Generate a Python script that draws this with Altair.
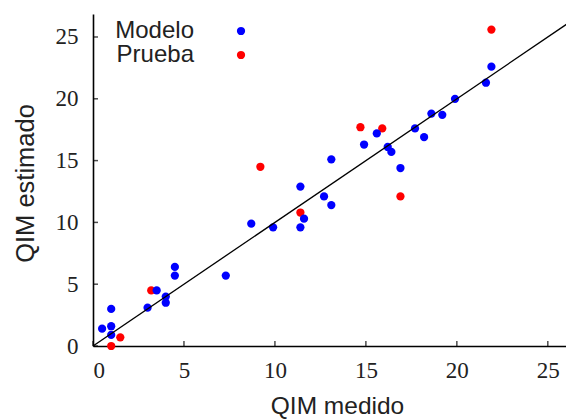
import altair as alt
import pandas as pd

# Modelo (blue)
modelo_x = [0.5, 1.0, 1.0, 1.0, 3.0, 3.5, 4.0, 4.0, 4.5, 4.5, 7.3, 8.7, 9.9, 11.4, 11.4, 11.6,
            12.7, 13.1, 13.1, 14.9, 15.6, 16.2, 16.4, 16.9, 17.7, 18.2, 18.6, 19.2, 19.9, 21.6, 21.9]
modelo_y = [1.4, 1.6, 0.9, 3.0, 3.1, 4.5, 4.0, 3.5, 5.7, 6.4, 5.7, 9.9, 9.6, 12.9, 9.6, 10.3,
            12.1, 11.4, 15.1, 16.3, 17.2, 16.1, 15.7, 14.4, 17.6, 16.9, 18.8, 18.7, 20.0, 21.3, 22.6]
# Prueba (red)
prueba_x = [1.0, 1.5, 3.2, 9.2, 11.4, 14.7, 15.9, 16.9, 21.9]
prueba_y = [0.0, 0.7, 4.5, 14.5, 10.8, 17.7, 17.6, 12.1, 25.6]

series = ["Modelo", "Prueba"]
colors = ["#0000ff", "#ff0000"]
tick_values = [0, 5, 10, 15, 20, 25]
x_domain = [0, 26.0]
y_domain = [0, 26.86]
diag = [0, 27]

df = pd.concat([
    pd.DataFrame({"x": prueba_x, "y": prueba_y, "serie": "Prueba", "o": 0}),
    pd.DataFrame({"x": modelo_x, "y": modelo_y, "serie": "Modelo", "o": 1}),
])
ddf = pd.DataFrame({"x": diag, "y": diag})
tdf = pd.DataFrame({"t": tick_values})

W, H = 473, 332
xs = alt.Scale(domain=x_domain, nice=False, zero=False)
ys = alt.Scale(domain=y_domain, nice=False, zero=False)

x_axis = alt.Axis(values=tick_values, ticks=False, tickSize=0, grid=False, domainColor="black",
                  domainWidth=1.6, labelFont="Liberation Serif", labelFontSize=23, labelColor="#222",
                  labelBaseline="alphabetic", labelPadding=31,
                  title="QIM medido", titleFont="Liberation Sans", titleFontSize=24.5,
                  titleFontWeight="normal", titleColor="#222", titleBaseline="alphabetic",
                  titleX=244, titleY=67, titleAnchor="middle")
y_axis = alt.Axis(values=tick_values, ticks=False, tickSize=0, grid=False, domainColor="black",
                  domainWidth=1.6, labelFont="Liberation Serif", labelFontSize=23, labelColor="#222",
                  labelPadding=15,
                  title="QIM estimado", titleFont="Liberation Sans", titleFontSize=25.5,
                  titleFontWeight="normal", titleColor="#222", titleBaseline="alphabetic",
                  titleX=-60, titleY=169, titleAnchor="middle")

points = alt.Chart(df).mark_circle(size=68, opacity=1).encode(
    x=alt.X("x:Q", scale=xs, axis=x_axis),
    y=alt.Y("y:Q", scale=ys, axis=y_axis),
    color=alt.Color("serie:N", scale=alt.Scale(domain=series, range=colors),
                    legend=alt.Legend(title=None, orient="none", legendX=136, legendY=5,
                                      labelAlign="right", labelOffset={"expr": "-59"},
                                      labelFont="Liberation Sans", labelFontSize=24,
                                      labelColor="#222", symbolType="circle", symbolSize=68,
                                      rowPadding=0, padding=0, labelLimit=300)),
    order=alt.Order("o:Q"),
)

line = alt.Chart(ddf).mark_line(color="black", strokeWidth=1.3, clip=True).encode(
    x=alt.X("x:Q", scale=xs), y=alt.Y("y:Q", scale=ys)
)

xticks = alt.Chart(tdf).mark_tick(color="black", thickness=1.5, size=5, orient="vertical").encode(
    x=alt.X("t:Q", scale=xs), y=alt.value(H - 2.5)
)
yticks = alt.Chart(tdf).mark_tick(color="black", thickness=1.5, size=5, orient="horizontal").encode(
    y=alt.Y("t:Q", scale=ys), x=alt.value(2.5)
)

chart = alt.layer(points, line, xticks, yticks).properties(
    width=W, height=H,
    autosize=alt.AutoSizeParams(type="none"),
    padding={"left": 85, "top": 6, "right": 0, "bottom": 73},
).configure_view(strokeWidth=0)

chart.save("out.html", embed_options={"renderer": "svg", "actions": False})
